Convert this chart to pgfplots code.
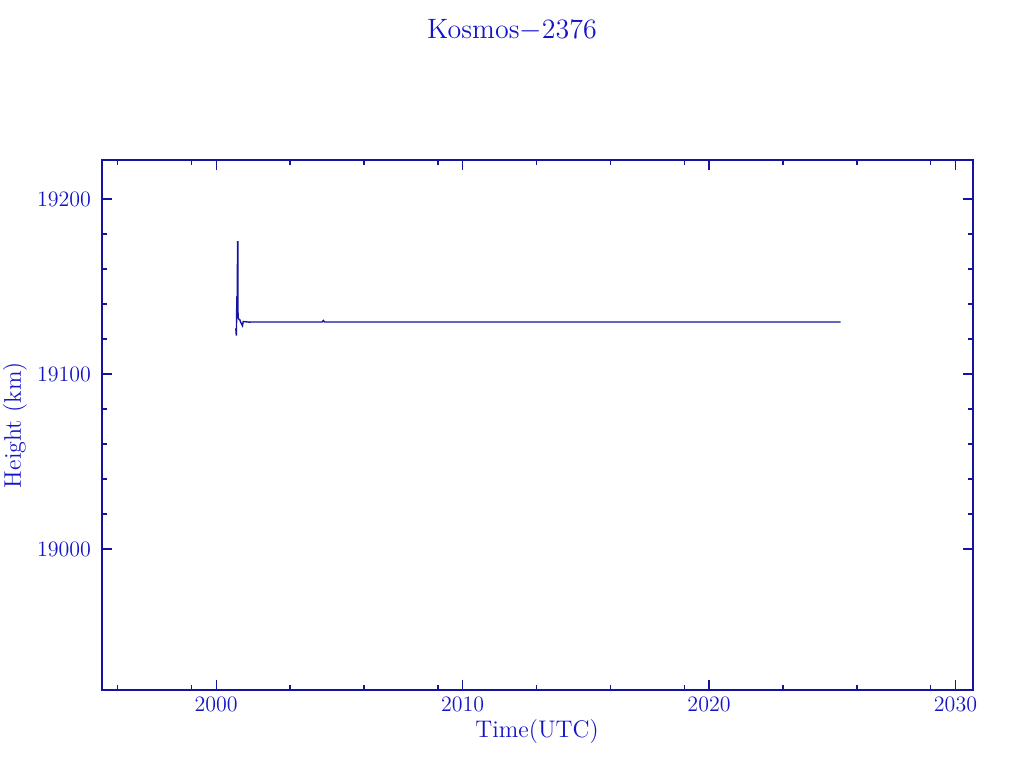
\documentclass[border=0pt]{standalone}
\usepackage{pgfplots}
\pgfplotsset{compat=1.18}
\definecolor{axisblue}{RGB}{20,20,160}
\definecolor{textblue}{RGB}{20,20,200}
\begin{document}
\begin{tikzpicture}
% 1 px of the reference = 0.5pt
\path[use as bounding box] (-51pt,-39pt) rectangle (461pt,345pt);
\begin{axis}[
  at={(0pt,0pt)}, anchor=south west,
  scale only axis, width=435.5pt, height=265pt,
  xmin=1995.37, xmax=2030.71,
  ymin=18919.4, ymax=19222.3,
  xtick={2000,2010,2020,2030},
  minor xtick={1996,1999,2003,2006,2009,2013,2016,2019,2023,2026,2029},
  ytick={19000,19100,19200},
  minor y tick num=4,
  scaled y ticks=false,
  tick align=inside,
  major tick length=5pt, minor tick length=2.5pt,
  axis line style={axisblue, line width=0.6pt},
  every tick/.style={axisblue, line width=0.6pt},
  /pgf/number format/.cd, fixed, 1000 sep={}, assume math mode=true, /pgfplots/.cd,
  tick label style={textblue, font=\fontsize{11}{13}\selectfont},
  yticklabel style={xshift=-2pt},
  title={Kosmos$-$2376},
  title style={at={(rel axis cs:0.4707,1.222)}, anchor=center, textblue, font=\fontsize{14}{16}\selectfont},
  xlabel={Time(UTC)},
  xlabel style={at={(rel axis cs:0.4995,-0.0792)}, anchor=center, textblue, font=\fontsize{12}{14}\selectfont},
  ylabel={Height (km)},
  ylabel style={at={(rel axis cs:-0.0999,0.5)}, anchor=center, rotate=0, textblue, font=\fontsize{12}{14}\selectfont},
]
\addplot[axisblue, line width=0.7pt] coordinates {
 (2000.80,19126) (2000.81,19124) (2000.82,19122) (2000.83,19130)
 (2000.84,19144) (2000.86,19144) (2000.87,19176) (2000.875,19150)
 (2000.88,19176) (2000.89,19135) (2000.90,19132) (2000.93,19131.2)
 (2000.96,19131) (2001.00,19129.5) (2001.07,19127.6) (2001.10,19130)
 (2001.37,19129.6) (2001.40,19129.7) (2004.30,19129.7) (2004.35,19130.6)
 (2004.40,19129.7) (2010.0,19129.7) (2020.0,19129.7) (2025.34,19129.7)
};
\end{axis}
\end{tikzpicture}
\end{document}
